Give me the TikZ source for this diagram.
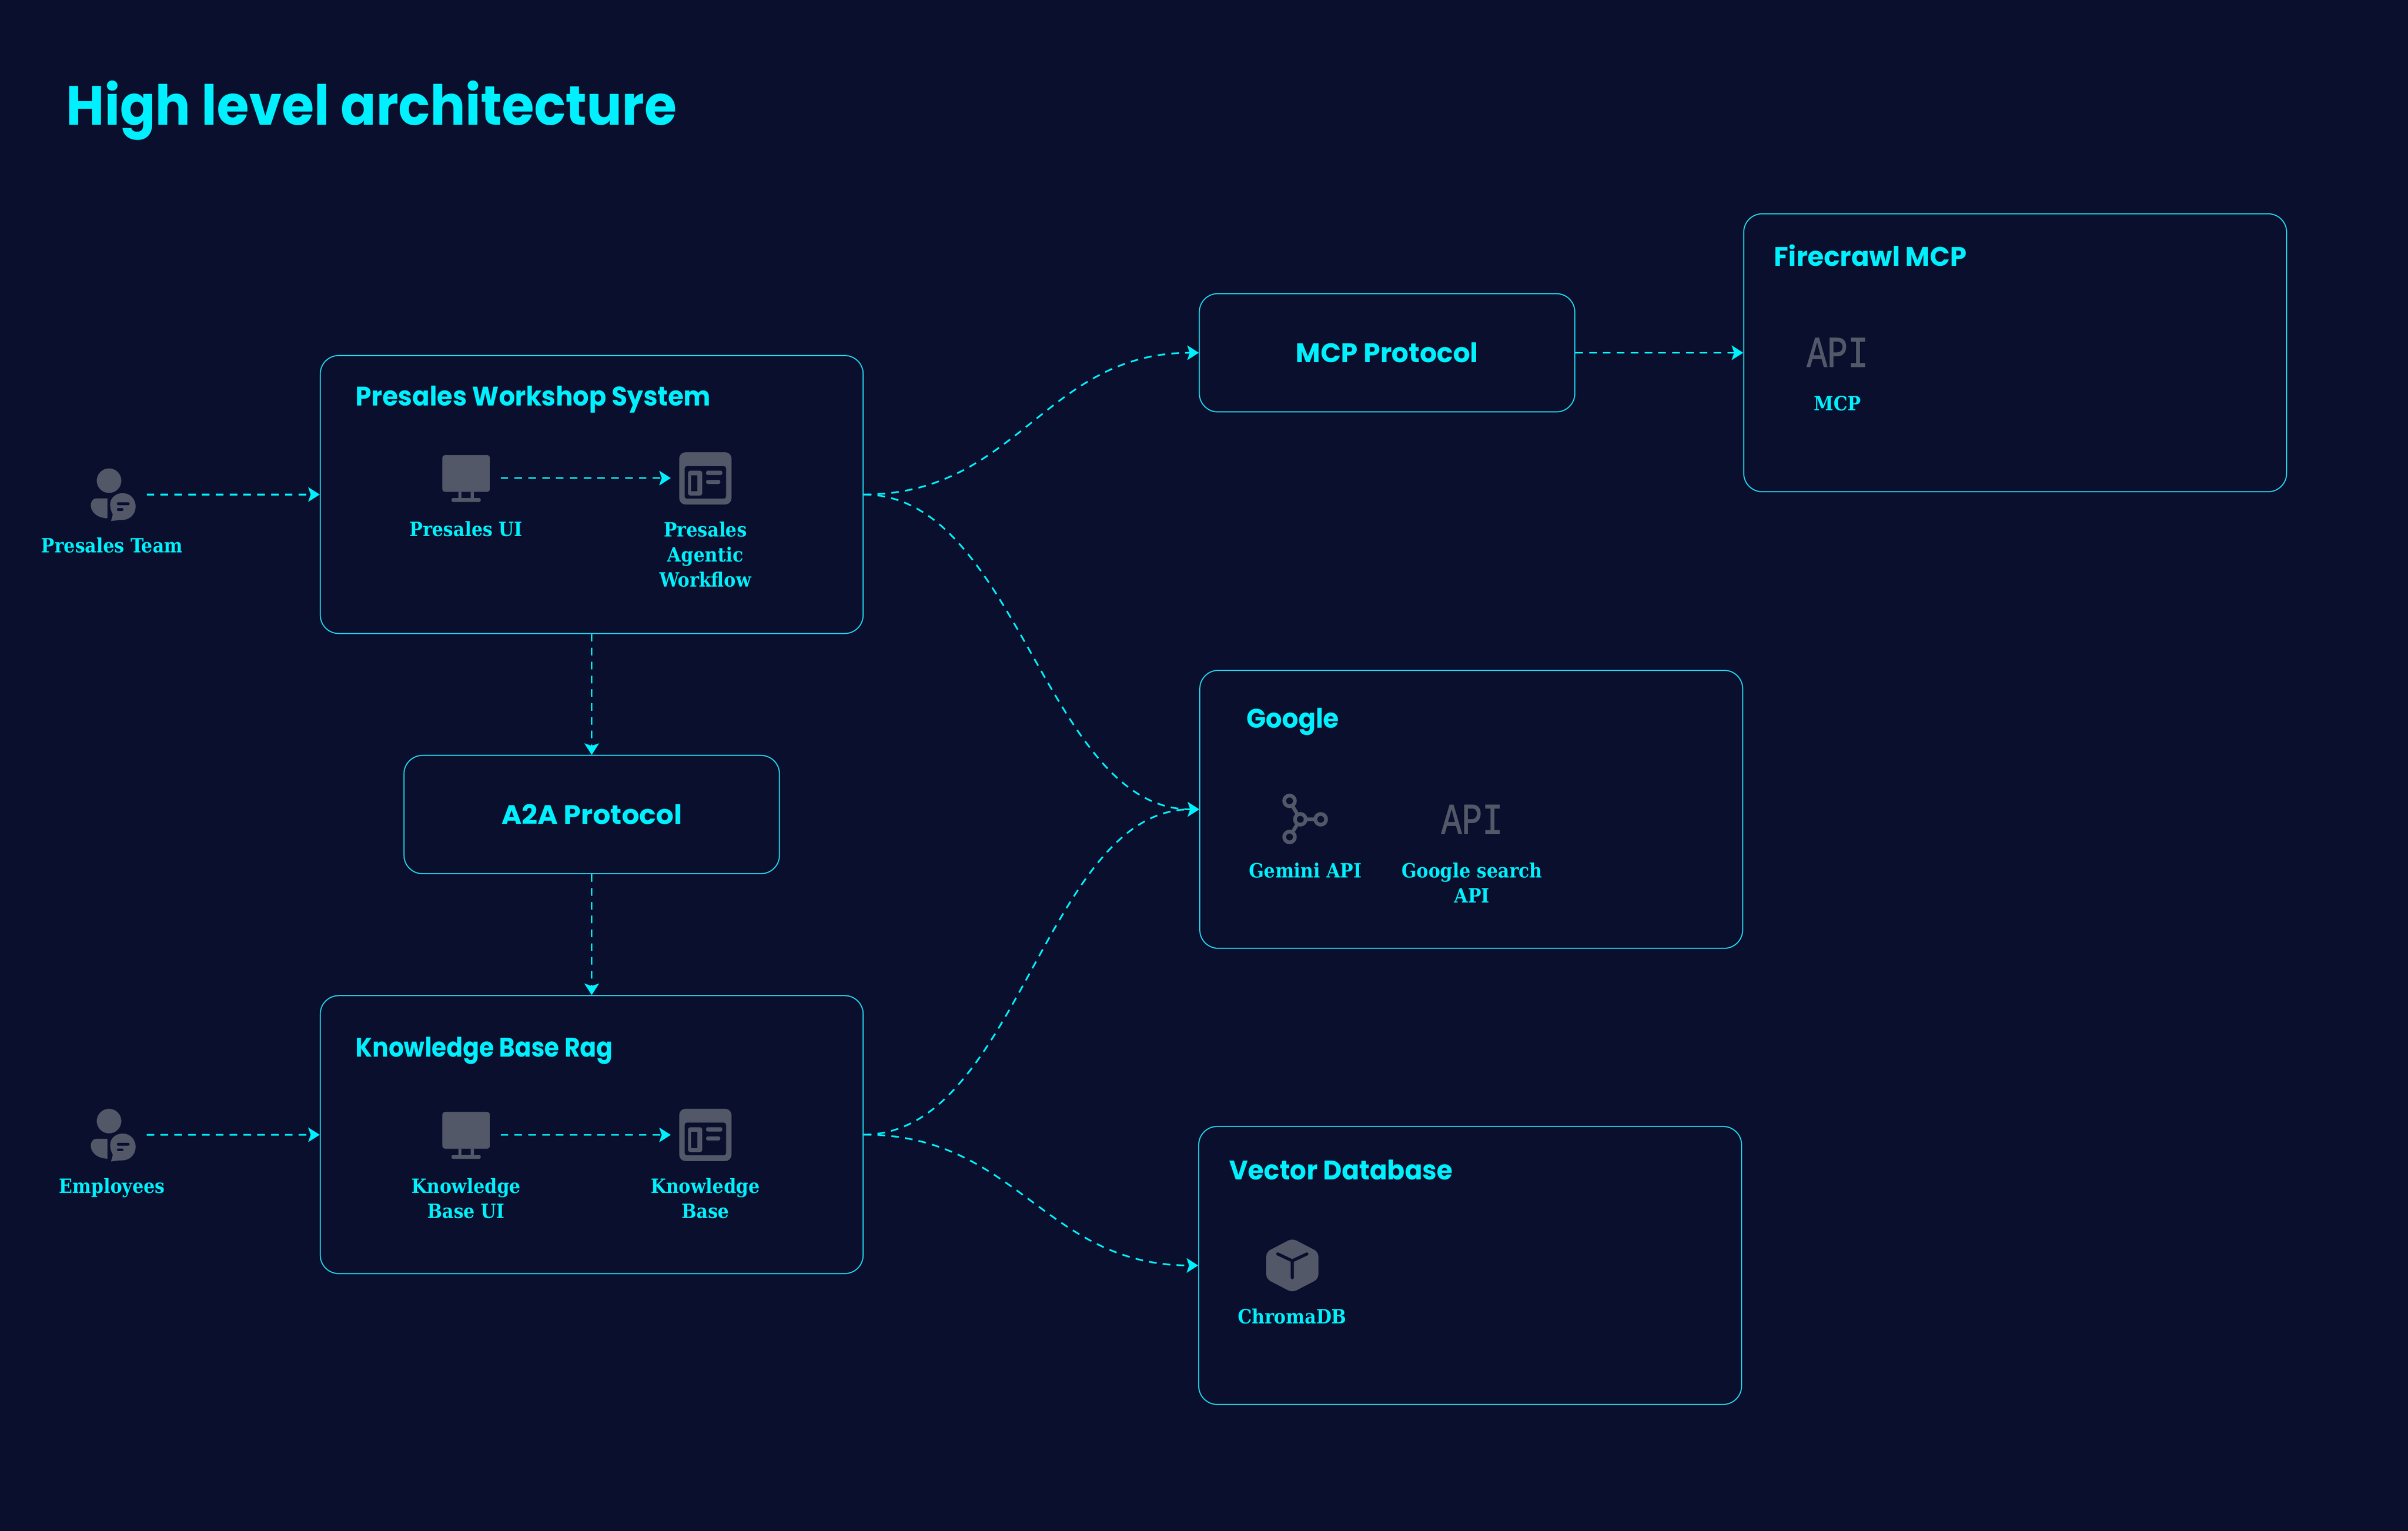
\documentclass[tikz,border=0pt]{standalone}
\usepackage{fontspec}
\usepackage{xcolor}
\usepackage{tikz}
\usetikzlibrary{arrows.meta,calc}
\usetikzlibrary{positioning}

\newfontfamily\titlefont{Poppins}
\newfontfamily\labelfont{DejaVu Serif Condensed}
\newfontfamily\apifont[FakeBold=1.5]{Liberation Mono}

\definecolor{pagebg}{HTML}{090F2C}
\definecolor{edgecyan}{HTML}{22D3EE}
\definecolor{textcyan}{HTML}{00F0FF}
\definecolor{icongray}{HTML}{525868}

\tikzset{
    panel/.style={draw=edgecyan, line width=.7pt, rounded corners=12pt, minimum width=353.5pt, minimum height=181pt, inner sep=0pt},
    proto/.style={panel, minimum width=244.5pt, minimum height=77pt, font=\titlefont\bfseries\fontsize{17.5}{20}\selectfont, text=textcyan},
    boxtitle/.style={anchor=base west, inner sep=0pt, text=textcyan, font=\titlefont\bfseries\fontsize{17.5}{20}\selectfont},
    iconbox/.style={minimum size=45pt, inner sep=0pt, outer sep=0pt},
    apiicon/.style={iconbox, text=icongray, font=\apifont\fontsize{28.5}{30}\selectfont},
    iconlabel/.style={below=5.5pt of #1, inner sep=0pt, align=center, text=textcyan, font=\labelfont\bfseries\fontsize{12.8}{16.3}\selectfont},
    flow/.style={draw=textcyan, line width=1.1pt, dash pattern=on 5pt off 4pt, -{Stealth[length=7.5pt, width=9.5pt, inset=1.6pt]}},
    sbend/.style={out=0, in=180, distance=#1},
    % Icons, drawn round the centre of their node
    person/.pic={
        \fill[icongray] (-2,-9) circle (8);
        \fill[icongray] (-3,2.5) -- (-10,2.5) .. controls (-16,2.5) and (-16,15) .. (-3,15.5) -- cycle;
        \filldraw[icongray, draw=pagebg, line width=.8pt] (-1.3,17.8) -- (0,13) .. controls (-5,3) and (2,-1.5) .. (7,-1.3) .. controls (19,-1) and (19,18) .. (5,17) -- cycle;
        \draw[pagebg, line width=1.8pt, line cap=round] (4,6) -- (10.5,6) (4,9.7) -- (6.5,9.7);
    },
    monitor/.pic={
        \fill[icongray, rounded corners=2pt] (-15.5,-15) rectangle (15.5,9);
        \fill[icongray] (-5,9) rectangle (-3,14) (3,9) rectangle (5,14);
        \fill[icongray, rounded corners=1pt] (-9.5,13) rectangle (9.5,15.6);
    },
    workflow/.pic={
        \fill[icongray, rounded corners=4pt] (-17,-17) rectangle (17,17);
        \fill[pagebg, rounded corners=1.5pt] (-13.5,-8) -- (13.5,-8) -- (13.5,13.2) -- (-13.5,13.2) -- cycle;
        \fill[icongray, rounded corners=1.5pt] (-11.3,-5) rectangle (-2,11.2);
        \fill[pagebg] (-9.3,-2) rectangle (-5.3,8.5);
        \fill[icongray, rounded corners=1pt] (.5,-5) rectangle (11,-2.2) (.5,1) rectangle (9.7,3.6);
    },
    gemini/.pic={
        \draw[icongray, line width=2.4pt] (-10.3,-12) -- (-3.3,0) -- (-10.3,11.5) (-3.3,0) -- (10,0);
        \filldraw[draw=icongray, fill=pagebg, line width=2.4pt] (-10.3,-12) circle (3.5) (10,0) circle (3.5) (-3.3,0) circle (3.5) (-10.3,11.5) circle (3.5);
    },
    cube/.pic={
        \fill[icongray, rounded corners=3pt] (0,-17.6) -- (17,-8.8) -- (17,8.8) -- (0,17.6) -- (-17,8.8) -- (-17,-8.8) -- cycle;
        \draw[pagebg, line width=2pt, line cap=round, line join=round] (-9.5,-7.5) -- (0,-3) -- (9.5,-7.5) (0,-3) -- (0,8);
    }
}

\begin{document}
\begin{tikzpicture}[x=1pt, y=-1pt, auto]
    \useasboundingbox (0,0) rectangle (1568,996.9);
    \fill[pagebg] (0,0) rectangle (1568,996.9);

    % Title
    \node[anchor=base west, inner sep=0pt, text=textcyan, font=\titlefont\bfseries\fontsize{36}{40}\selectfont] (heading) at (43,81.4) {\scalebox{.945}[1]{High level architecture}};

    % Boxes
    \node[panel] (presales) at (385.3,322) {};
    \node[proto, below=78.7pt of presales] (a2a) {\scalebox{1.03}[1]{A2A Protocol}};
    \node[panel, below=78.7pt of a2a] (kbrag) {};
    \node[proto] (mcpproto) at (903.2,229.7) {MCP Protocol};
    \node[panel] (firecrawl) at (1312.2,229.7) {};
    \node[panel] (google) at (958,527) {};
    \node[panel] (vectordb) at (957.3,824) {};

    \node[boxtitle] (presalestitle) at (231.5,264.3) {\scalebox{.945}[1]{Presales Workshop System}};
    \node[boxtitle] (kbtitle) at (231.5,688.3) {\scalebox{.893}[1]{Knowledge Base Rag}};
    \node[boxtitle] (firecrawltitle) at (1155,173.4) {\scalebox{.985}[1]{Firecrawl MCP}};
    \node[boxtitle] (googletitle) at (811.5,473.9) {\scalebox{.95}[1]{Google}};
    \node[boxtitle] (vectortitle) at (800.3,768) {\scalebox{.96}[1]{Vector Database}};

    % Icons
    \node[iconbox] (team) at (73,322) {};
    \node[iconbox] (staff) at (73,739) {};
    \node[iconbox] (presalesui) at (303.5,311.3) {};
    \node[iconbox] (agentic) at (459.3,311.5) {};
    \node[iconbox] (kbui) at (303.5,739) {};
    \node[iconbox] (kbase) at (459.3,739) {};
    \node[apiicon] (mcpapi) at (1196.5,229.5) {\scalebox{.78}[1]{API}};
    \node[iconbox] (gemini) at (850,533.5) {};
    \node[apiicon] (searchapi) at (958.5,533.5) {\scalebox{.78}[1]{API}};
    \node[iconbox] (chroma) at (841.5,824) {};

    \pic at (team) {person};
    \pic at (staff) {person};
    \pic at (presalesui) {monitor};
    \pic at (agentic) {workflow};
    \pic at (kbui) {monitor};
    \pic at (kbase) {workflow};
    \pic at (gemini) {gemini};
    \pic at (chroma) {cube};

    % Icon labels
    \node[iconlabel=team] (teamlabel) {Presales Team};
    \node[iconlabel=staff] (stafflabel) {Employees};
    \node[iconlabel=presalesui] (presalesuilabel) {Presales UI};
    \node[iconlabel=agentic] (agenticlabel) {Presales\\Agentic\\Workflow};
    \node[iconlabel=kbui] (kbuilabel) {Knowledge\\Base UI};
    \node[iconlabel=kbase] (kbaselabel) {Knowledge\\Base};
    \node[iconlabel=mcpapi] (mcpapilabel) {MCP};
    \node[iconlabel=gemini] (geminilabel) {Gemini API};
    \node[iconlabel=searchapi] (searchapilabel) {Google search\\API};
    \node[iconlabel=chroma] (chromalabel) {ChromaDB};

    % Straight arrows
    \draw[flow] (team) -- (presales);
    \draw[flow] (staff) -- (kbrag);
    \draw[flow] (presalesui) -- (presalesui -| agentic.west);
    \draw[flow] (kbui) -- (kbase);
    \draw[flow] (presales) -- (a2a);
    \draw[flow] (a2a) -- (kbrag);
    \draw[flow] (mcpproto) -- (firecrawl);

    % Curved arrows
    \draw[flow] (presales.east) to[sbend=100pt] (mcpproto.west);
    \draw[flow] (presales.east) to[sbend=100pt] (google.west);
    \draw[flow] (kbrag.east) to[sbend=100pt] (google.west);
    \draw[flow] (kbrag.east) to[sbend=100pt] (vectordb.west);
\end{tikzpicture}
\end{document}
